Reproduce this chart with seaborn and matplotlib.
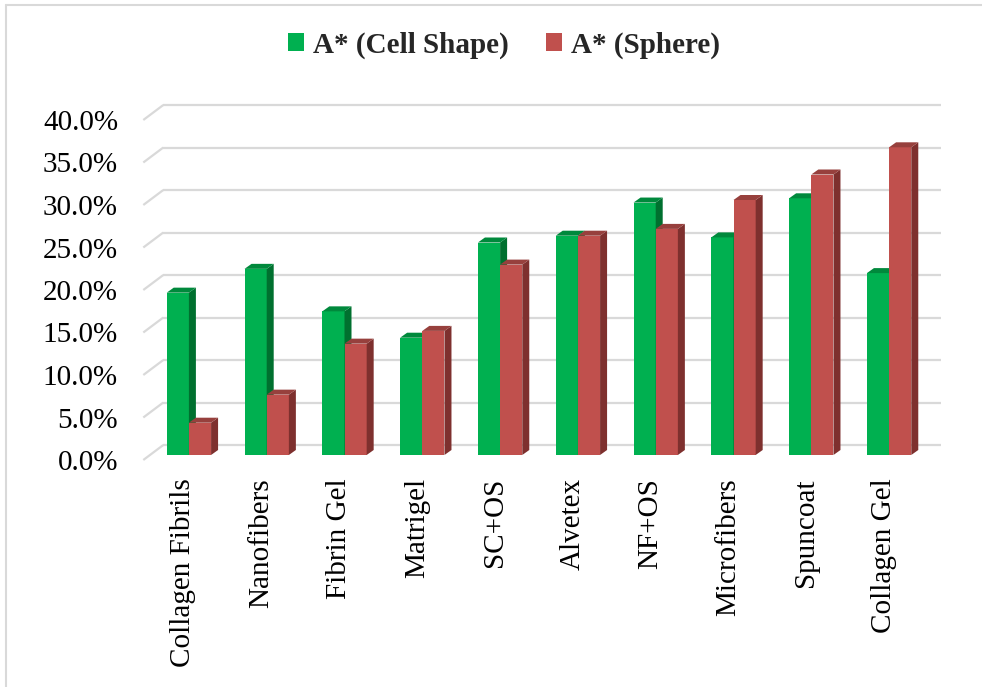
import matplotlib
matplotlib.use("Agg")
import matplotlib.pyplot as plt
import numpy as np
import pandas as pd
import seaborn as sns
from matplotlib.patches import Polygon, Patch
from matplotlib.lines import Line2D
from matplotlib import transforms

# ---- data ----
materials = ["Collagen Fibrils", "Nanofibers", "Fibrin Gel", "Matrigel", "SC+OS",
             "Alvetex", "NF+OS", "Microfibers", "Spuncoat", "Collagen Gel"]
cell_shape = [19.1, 21.9, 16.9, 13.8, 25.0, 25.8, 29.7, 25.6, 30.2, 21.4]
sphere = [3.8, 7.1, 13.1, 14.6, 22.4, 25.8, 26.6, 30.0, 33.0, 36.2]
series_names = ["A* (Cell Shape)", "A* (Sphere)"]
y_ticks = [0, 5, 10, 15, 20, 25, 30, 35, 40]

# ---- styling ----
GREEN, RED = "#00B050", "#C0504D"
GREEN_SIDE, GREEN_TOP = "#00702F", "#00893C"
RED_SIDE, RED_TOP = "#7E302E", "#97403D"
GRID = "#D9D9D9"
DX, DY = 7, 5            # bar depth (pixels)
BX, BY = 13.3, 10        # back wall offset from bar face (pixels)
FX, FY = -6.7, -5        # front floor edge offset (pixels)

sns.set_style("white")
plt.rcParams["font.family"] = ["Liberation Serif", "DejaVu Serif"]

W, H, DPI = 982, 687, 100
fig = plt.figure(figsize=(W / DPI, H / DPI), dpi=DPI)
ax = fig.add_axes([150 / W, (H - 455) / H, 778 / W, 340 / H])

df = pd.DataFrame({
    "Material": materials * 2,
    "Value": cell_shape + sphere,
    "Series": [series_names[0]] * len(materials) + [series_names[1]] * len(materials),
})

sns.barplot(data=df, x="Material", y="Value", hue="Series", hue_order=series_names,
            palette=[GREEN, RED], saturation=1, width=0.57, legend=False,
            errorbar=None, ax=ax)

ax.set_xlim(-0.5, len(materials) - 0.5)
ax.set_ylim(0, 40)
for s in ax.spines.values():
    s.set_visible(False)
ax.set_xlabel("")
ax.set_ylabel("")
ax.grid(False)

to_disp = ax.transData.transform
to_data = ax.transData.inverted().transform

# ---- 3D side and top faces for each bar ----
faces = [(GREEN_SIDE, GREEN_TOP, 2.0), (RED_SIDE, RED_TOP, 3.0)]
for container, (side_c, top_c, z) in zip(ax.containers, faces):
    for bar in container:
        bar.set_zorder(z)
        bar.set_edgecolor("none")
        x0, w, h = bar.get_x(), bar.get_width(), bar.get_height()
        px0, py0 = to_disp((x0, 0))
        px1, py1 = to_disp((x0 + w, h))
        side = [(px1, py0), (px1 + DX, py0 + DY), (px1 + DX, py1 + DY), (px1, py1)]
        top = [(px0, py1), (px1, py1), (px1 + DX, py1 + DY), (px0 + DX, py1 + DY)]
        ax.add_patch(Polygon(to_data(np.array(side)), closed=True, fc=side_c,
                             ec="none", zorder=z + 0.1))
        ax.add_patch(Polygon(to_data(np.array(top)), closed=True, fc=top_c,
                             ec="none", zorder=z + 0.2))

# ---- back wall gridlines and floor diagonals ----
xl = to_disp((-0.5, 0))[0]
xr = to_disp((len(materials) - 0.5, 0))[0]
for v in y_ticks:
    yd = to_disp((0, v))[1]
    back = to_data(np.array([(xl + BX, yd + BY), (xr + BX, yd + BY)]))
    diag = to_data(np.array([(xl + FX, yd + FY), (xl + BX, yd + BY)]))
    for seg in (back, diag):
        ax.add_line(Line2D(seg[:, 0], seg[:, 1], color=GRID, lw=1.6,
                           zorder=1, clip_on=False, solid_capstyle="butt"))

# ---- tick labels ----
ax.set_yticks(y_ticks)
ax.set_yticklabels([f"{v:.1f}%" for v in y_ticks])
ax.set_xticks(range(len(materials)))
ax.set_xticklabels(materials, rotation=90)
ax.tick_params(axis="y", length=0, pad=23, labelsize=21, colors="black")
ax.tick_params(axis="x", length=0, pad=16.6, labelsize=21, colors="black")
for lab in ax.get_yticklabels():
    lab.set_transform(lab.get_transform() +
                      transforms.ScaledTranslation(0, FY / DPI, fig.dpi_scale_trans))
for lab in ax.get_xticklabels():
    lab.set_transform(lab.get_transform() +
                      transforms.ScaledTranslation(-5.5 / DPI, 0, fig.dpi_scale_trans))

# ---- legend ----
handles = [Patch(fc=GREEN, ec="none"), Patch(fc=RED, ec="none")]
fig.legend(handles, series_names, loc="center", bbox_to_anchor=(504 / W, (H - 45) / H),
           ncol=2, frameon=False, prop={"weight": "bold", "size": 21},
           handlelength=0.55, handleheight=0.55, handletextpad=0.3,
           columnspacing=1.3, borderaxespad=0)

# ---- outer chart frame ----
fig.add_artist(Line2D([6 / W, 6 / W], [0, (H - 5) / H], color=GRID, lw=1.5))
fig.add_artist(Line2D([6 / W, 1], [(H - 5) / H, (H - 5) / H], color=GRID, lw=1.5))

fig.savefig("out.png", dpi=DPI, facecolor="white")
